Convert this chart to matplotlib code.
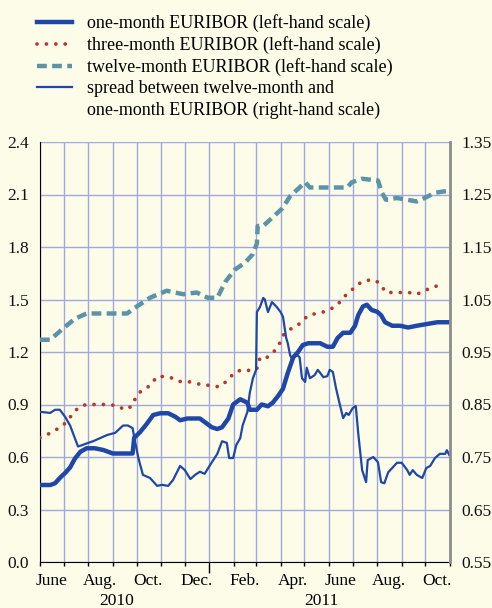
import matplotlib.pyplot as plt
import matplotlib.dates as mdates
from matplotlib.lines import Line2D
import numpy as np
import pandas as pd

plt.rcParams['font.family'] = ['Liberation Serif', 'DejaVu Serif']

# one-month EURIBOR (left-hand scale)
one_dates = ["2010-06-01", "2010-06-14", "2010-06-20", "2010-06-26", "2010-07-03", "2010-07-09",
             "2010-07-15", "2010-07-22", "2010-07-30", "2010-08-09", "2010-08-20", "2010-09-01",
             "2010-09-14", "2010-09-26", "2010-09-28", "2010-10-05", "2010-10-14", "2010-10-22",
             "2010-10-31", "2010-11-10", "2010-11-19", "2010-11-25", "2010-12-04", "2010-12-11",
             "2010-12-20", "2010-12-26", "2011-01-04", "2011-01-11", "2011-01-17", "2011-01-25",
             "2011-01-31", "2011-02-09", "2011-02-18", "2011-02-21", "2011-03-02", "2011-03-08",
             "2011-03-16", "2011-03-22", "2011-03-29", "2011-04-04", "2011-04-10", "2011-04-17",
             "2011-04-23", "2011-04-29", "2011-05-06", "2011-05-14", "2011-05-21", "2011-05-30",
             "2011-06-06", "2011-06-12", "2011-06-19", "2011-06-28", "2011-07-04", "2011-07-08",
             "2011-07-14", "2011-07-19", "2011-07-25", "2011-08-01", "2011-08-06", "2011-08-11",
             "2011-08-20", "2011-08-30", "2011-09-09", "2011-09-20", "2011-10-03", "2011-10-16",
             "2011-10-29"]
one_vals = [0.44, 0.44, 0.45, 0.48, 0.51, 0.54,
            0.59, 0.63, 0.65, 0.65, 0.64, 0.62,
            0.62, 0.62, 0.71, 0.74, 0.79, 0.84,
            0.85, 0.85, 0.83, 0.81, 0.82, 0.82,
            0.82, 0.80, 0.77, 0.76, 0.77, 0.82,
            0.90, 0.93, 0.91, 0.87, 0.87, 0.90,
            0.89, 0.91, 0.95, 0.99, 1.08, 1.17,
            1.20, 1.24, 1.25, 1.25, 1.25, 1.23,
            1.23, 1.28, 1.31, 1.31, 1.35, 1.41,
            1.46, 1.47, 1.44, 1.43, 1.41, 1.37,
            1.35, 1.35, 1.34, 1.35, 1.36, 1.37,
            1.37]

# three-month EURIBOR (left-hand scale)
three_dates = ["2010-06-01", "2010-06-11", "2010-06-21", "2010-06-30", "2010-07-06", "2010-07-13",
               "2010-07-19", "2010-07-29", "2010-08-08", "2010-08-28", "2010-09-08", "2010-09-16",
               "2010-09-25", "2010-09-29", "2010-10-05", "2010-10-13", "2010-10-20", "2010-10-27",
               "2010-11-06", "2010-11-16", "2010-11-26", "2010-12-06", "2010-12-16", "2010-12-25",
               "2011-01-04", "2011-01-13", "2011-01-22", "2011-01-28", "2011-02-05", "2011-02-15",
               "2011-02-24", "2011-03-03", "2011-03-06", "2011-03-15", "2011-03-21", "2011-03-27",
               "2011-04-01", "2011-04-05", "2011-04-13", "2011-04-22", "2011-04-29", "2011-05-06",
               "2011-05-16", "2011-05-26", "2011-06-05", "2011-06-12", "2011-06-19", "2011-06-26",
               "2011-07-04", "2011-07-12", "2011-07-20", "2011-07-30", "2011-08-06", "2011-08-12",
               "2011-08-21", "2011-09-01", "2011-09-10", "2011-09-20", "2011-09-30", "2011-10-09",
               "2011-10-18"]
three_vals = [0.71, 0.73, 0.755, 0.78, 0.81, 0.85,
              0.88, 0.90, 0.90, 0.90, 0.89, 0.87,
              0.89, 0.93, 0.97, 0.99, 1.02, 1.06,
              1.06, 1.05, 1.03, 1.03, 1.02, 1.01,
              1.01, 1.00, 1.03, 1.06, 1.09, 1.10,
              1.09, 1.11, 1.17, 1.17, 1.19, 1.22,
              1.26, 1.30, 1.33, 1.35, 1.38, 1.41,
              1.42, 1.43, 1.45, 1.47, 1.51, 1.54,
              1.57, 1.60, 1.61, 1.61, 1.58, 1.54,
              1.54, 1.54, 1.54, 1.53, 1.55, 1.57,
              1.58]

# twelve-month EURIBOR (left-hand scale)
twelve_dates = ["2010-06-01", "2010-06-14", "2010-06-29", "2010-07-15", "2010-07-30", "2010-08-12",
                "2010-08-30", "2010-09-19", "2010-09-28", "2010-10-18", "2010-11-08", "2010-11-29",
                "2010-12-16", "2010-12-30", "2011-01-11", "2011-01-21", "2011-02-02", "2011-02-15",
                "2011-02-25", "2011-03-02", "2011-03-03", "2011-03-10", "2011-03-22", "2011-04-03",
                "2011-04-13", "2011-05-02", "2011-05-08", "2011-06-02", "2011-06-24", "2011-06-30",
                "2011-07-13", "2011-08-02", "2011-08-07", "2011-08-12", "2011-08-26", "2011-09-08",
                "2011-09-20", "2011-09-30", "2011-10-13", "2011-10-28"]
twelve_vals = [1.27, 1.27, 1.33, 1.39, 1.42, 1.42,
               1.42, 1.42, 1.45, 1.51, 1.55, 1.53,
               1.54, 1.51, 1.51, 1.60, 1.67, 1.71,
               1.76, 1.82, 1.92, 1.92, 1.97, 2.02,
               2.09, 2.17, 2.14, 2.14, 2.14, 2.17,
               2.19, 2.18, 2.11, 2.07, 2.08, 2.07,
               2.06, 2.08, 2.11, 2.12]

# spread between twelve-month and one-month EURIBOR (right-hand scale)
spread_dates = ["2010-06-01", "2010-06-14", "2010-06-20", "2010-06-26", "2010-07-03", "2010-07-09",
                "2010-07-15", "2010-07-19", "2010-07-25", "2010-08-01", "2010-08-07", "2010-08-16",
                "2010-08-25", "2010-09-04", "2010-09-14", "2010-09-20", "2010-09-26", "2010-09-28",
                "2010-10-03", "2010-10-09", "2010-10-18", "2010-10-27", "2010-11-02", "2010-11-10",
                "2010-11-16", "2010-11-25", "2010-12-01", "2010-12-08", "2010-12-14", "2010-12-20",
                "2010-12-26", "2011-01-02", "2011-01-11", "2011-01-17", "2011-01-23", "2011-01-26",
                "2011-01-31", "2011-02-04", "2011-02-09", "2011-02-12", "2011-02-18", "2011-02-21",
                "2011-02-25", "2011-03-01", "2011-03-02", "2011-03-06", "2011-03-10", "2011-03-12",
                "2011-03-16", "2011-03-21", "2011-03-27", "2011-04-01", "2011-04-04", "2011-04-08",
                "2011-04-10", "2011-04-13", "2011-04-15", "2011-04-22", "2011-04-25", "2011-04-28",
                "2011-05-02", "2011-05-04", "2011-05-08", "2011-05-14", "2011-05-18", "2011-05-25",
                "2011-05-30", "2011-06-02", "2011-06-06", "2011-06-10", "2011-06-14", "2011-06-19",
                "2011-06-23", "2011-06-26", "2011-07-01", "2011-07-05", "2011-07-08", "2011-07-13",
                "2011-07-18", "2011-07-20", "2011-07-27", "2011-08-02", "2011-08-06", "2011-08-10",
                "2011-08-15", "2011-08-20", "2011-08-26", "2011-09-01", "2011-09-08", "2011-09-11",
                "2011-09-15", "2011-09-20", "2011-09-27", "2011-10-02", "2011-10-07", "2011-10-13",
                "2011-10-19", "2011-10-26", "2011-10-28", "2011-10-31"]
spread_vals = [0.836, 0.834, 0.84, 0.84, 0.826, 0.81,
               0.786, 0.77, 0.773, 0.777, 0.78, 0.786,
               0.792, 0.796, 0.81, 0.81, 0.805, 0.788,
               0.75, 0.716, 0.71, 0.695, 0.697, 0.695,
               0.706, 0.733, 0.725, 0.708, 0.716, 0.722,
               0.718, 0.735, 0.756, 0.78, 0.777, 0.748,
               0.748, 0.773, 0.786, 0.81, 0.836, 0.872,
               0.90, 0.916, 1.026, 1.036, 1.053, 1.05,
               1.026, 1.045, 1.036, 1.026, 1.017, 0.977,
               0.967, 0.944, 0.938, 0.944, 0.94, 0.90,
               0.893, 0.92, 0.90, 0.906, 0.916, 0.902,
               0.904, 0.916, 0.912, 0.881, 0.855, 0.824,
               0.834, 0.83, 0.843, 0.847, 0.796, 0.725,
               0.702, 0.744, 0.75, 0.74, 0.702, 0.70,
               0.721, 0.729, 0.739, 0.739, 0.725, 0.716,
               0.725, 0.716, 0.71, 0.729, 0.733, 0.748,
               0.756, 0.756, 0.763, 0.754]

month_labels = ["June", "Aug.", "Oct.", "Dec.", "Feb.", "Apr.", "June", "Aug.", "Oct."]
month_label_dates = ["2010-06-16", "2010-08-16", "2010-10-16", "2010-12-16", "2011-02-15",
                     "2011-04-16", "2011-06-16", "2011-08-16", "2011-10-16"]
year_labels = ["2010", "2011"]
year_label_dates = ["2010-09-06", "2011-05-23"]

bg = '#fdfce8'
blue = '#1f47a8'
red = '#b8372c'
teal = '#5b93a8'
grid_col = '#a0a8de'

fig = plt.figure(figsize=(4.92, 6.08), dpi=100, facecolor=bg)
ax = fig.add_axes([40 / 492, 1 - 562 / 608, 410 / 492, 420 / 608])
ax.set_facecolor(bg)
ax2 = ax.twinx()

l1, = ax.plot(pd.to_datetime(one_dates), one_vals, color=blue, lw=3.2,
              solid_joinstyle='round', zorder=4)
l2, = ax.plot(pd.to_datetime(three_dates), three_vals, color=red, lw=2.7,
              linestyle=(0, (0.01, 2.5)), dash_capstyle='round', zorder=3)
l3, = ax.plot(pd.to_datetime(twelve_dates), twelve_vals, color=teal, lw=3.2,
              linestyle=(0, (2.2, 1.2)), zorder=3)
l4, = ax2.plot(pd.to_datetime(spread_dates), spread_vals, color=blue, lw=1.6)

ax.set_xlim(pd.Timestamp('2010-06-01'), pd.Timestamp('2011-11-01'))
ax.set_ylim(0, 2.4)
ax2.set_ylim(0.55, 1.35)

ax.set_yticks(np.arange(0, 2.41, 0.3))
ax.set_yticklabels(['%.1f' % v for v in np.arange(0, 2.41, 0.3)])
ax2.set_yticks(np.arange(0.55, 1.36, 0.1))
ax2.set_yticklabels(['%.2f' % v for v in np.arange(0.55, 1.36, 0.1)])
ax.tick_params(axis='y', length=0, pad=8, labelsize=12.5, colors='#111111')
ax2.tick_params(axis='y', length=0, pad=8, labelsize=12.5, colors='#111111')

ax.xaxis.set_major_locator(mdates.YearLocator())
ax.xaxis.set_minor_locator(mdates.MonthLocator())
ax.xaxis.set_major_formatter(plt.NullFormatter())
ax.tick_params(axis='x', which='major', length=8, width=1, direction='out')
ax.tick_params(axis='x', which='minor', length=3, width=1, direction='out')

ax.grid(True, axis='x', which='both', color=grid_col, lw=1)
ax.grid(True, axis='y', which='major', color=grid_col, lw=1)
ax.set_axisbelow(True)

for s in ['top', 'right']:
    ax.spines[s].set_visible(False)
for s in ['top', 'left', 'bottom']:
    ax2.spines[s].set_visible(False)
ax2.spines['right'].set_color('#8c8c8c')
ax2.spines['right'].set_linewidth(2)

xt = ax.get_xaxis_transform()
for d, lab in zip(month_label_dates, month_labels):
    ax.text(pd.Timestamp(d), -0.045, lab, transform=xt, ha='center', va='center', fontsize=12.5)
for d, lab in zip(year_label_dates, year_labels):
    ax.text(pd.Timestamp(d), -0.093, lab, transform=xt, ha='center', va='center', fontsize=12.5)

blank = Line2D([], [], linestyle='none')
fig.legend([l1, l2, l3, l4, blank],
           ['one-month EURIBOR (left-hand scale)',
            'three-month EURIBOR (left-hand scale)',
            'twelve-month EURIBOR (left-hand scale)',
            'spread between twelve-month and',
            'one-month EURIBOR (right-hand scale)'],
           loc='upper left', bbox_to_anchor=(37 / 492, 1 - 14 / 608), frameon=False,
           fontsize=13, handlelength=1.95, handletextpad=0.8, labelspacing=0.23,
           borderpad=0, borderaxespad=0)

fig.savefig('out.png', dpi=100, facecolor=bg)
